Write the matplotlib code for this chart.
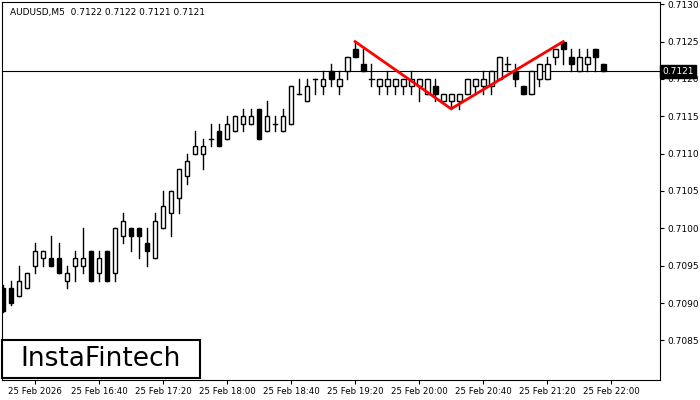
import numpy as np
import matplotlib
matplotlib.use('Agg')
import matplotlib.pyplot as plt
from matplotlib.patches import Rectangle

# OHLC of the AUDUSD M5 candles
opens = [.70920, .7092, .7091, .7092, .7095, .7096, .7096, .7096, .7093, .7095,
         .7095, .7097, .7094, .7097, .7094, .7099, .7100, .7100, .7098, .7096,
         .7100, .7102, .7104, .7107, .7110, .7110, .7112, .7113, .7112, .7113,
         .7114, .7114, .7116, .7113, .7114, .7113, .7114, .7118, .7117, .7120,
         .7119, .7121, .7119, .7121, .7124, .7122, .7120, .7119, .7119, .7119,
         .7119, .7119, .7119, .7118, .7119, .7117, .7117, .7117, .7118, .7119,
         .7119, .7119, .7120, .7122, .7121, .7119, .7118, .7120, .7120, .7123,
         .7125, .7123, .7121, .7122, .7124, .7122]
highs = [.70924, .7093, .7095, .7094, .7098, .7097, .7099, .7098, .7095, .7097,
         .7100, .7097, .7097, .7097, .7100, .7102, .7100, .7100, .7100, .7102,
         .7105, .7105, .7108, .7110, .7113, .7112, .7114, .7114, .7115, .7115,
         .7116, .7116, .7116, .7117, .7115, .7116, .7119, .7120, .7120, .7120,
         .7121, .7122, .7121, .7123, .7125, .7124, .7122, .7120, .7121, .7120,
         .7120, .7121, .7120, .7120, .7120, .7118, .7118, .7118, .7120, .7120,
         .7121, .7121, .7123, .7123, .7122, .7119, .7121, .7122, .7123, .7124,
         .7125, .7124, .7124, .7124, .7124, .7122]
lows = [.70888, .70898, .7091, .7092, .7094, .7095, .7095, .7094, .7092, .7093,
        .7094, .7093, .7093, .7093, .7093, .7098, .7097, .7096, .7095, .7096,
        .7100, .7099, .7102, .7106, .7110, .7108, .7111, .7111, .7112, .7113,
        .7113, .7114, .7112, .7113, .7113, .7113, .7114, .7118, .7117, .7118,
        .7118, .7119, .7118, .7120, .7123, .7121, .7119, .7118, .7118, .7118,
        .7118, .7118, .7117, .7118, .7117, .7117, .7116, .7116, .7118, .7118,
        .7118, .7118, .7120, .7121, .7119, .7118, .7118, .7119, .7120, .7122,
        .7122, .7121, .7121, .7121, .7121, .7121]
closes = [.70890, .7090, .7093, .7094, .7097, .7097, .7095, .7094, .7094, .7096,
          .7096, .7093, .7096, .7093, .7100, .7101, .7099, .7099, .7097, .7101,
          .7103, .7105, .7108, .7109, .7111, .7111, .7112, .7111, .7114, .7115,
          .7115, .7115, .7112, .7115, .7114, .7115, .7119, .7118, .7119, .7120,
          .7120, .7120, .7120, .7123, .7123, .7121, .7120, .7120, .7120, .7120,
          .7120, .7120, .7120, .7120, .7118, .7118, .7118, .7118, .7120, .7120,
          .7120, .7121, .7123, .7122, .7120, .7118, .7121, .7122, .7122, .7124,
          .7124, .7122, .7123, .7123, .7123, .7121]

# double top pattern: bar index and price of the three corners
pattern_idx = [44, 56, 70]
pattern_px = [.7125, .7116, .7125]

time_tick_idx = [4, 12, 20, 28, 36, 44, 52, 60, 68, 76]
time_tick_labels = ['25 Feb 2026', '25 Feb 16:40', '25 Feb 17:20', '25 Feb 18:00',
                    '25 Feb 18:40', '25 Feb 19:20', '25 Feb 20:00', '25 Feb 20:40',
                    '25 Feb 21:20', '25 Feb 22:00']
price_ticks = [.7085, .7090, .7095, .7100, .7105, .7110, .7115, .7120, .7125, .7130]
last_price = .7121

fig = plt.figure(figsize=(7, 4), dpi=100)
ax = fig.add_axes([2 / 700, 20 / 400, 658 / 700, 378 / 400])

w = 0.6
for i, (o, h, l, c) in enumerate(zip(opens, highs, lows, closes)):
    ax.plot([i, i], [l, h], color='black', lw=1, zorder=2)
    lo, hi = min(o, c), max(o, c)
    if hi - lo < 1e-6:
        ax.plot([i - w / 2, i + w / 2], [o, o], color='black', lw=1, zorder=3)
    else:
        ax.add_patch(Rectangle((i - w / 2, lo), w, hi - lo, facecolor='black' if c < o else 'white',
                               edgecolor='black', lw=1, zorder=3))

ax.plot(pattern_idx, pattern_px, color='#ff0000', lw=2, zorder=4)
ax.axhline(last_price, color='black', lw=0.8, zorder=1)

ax.set_xlim(-0.125, 82.1)
ax.set_ylim(.70797, .71303)
ax.set_xticks(time_tick_idx)
ax.set_xticklabels(time_tick_labels, fontsize=6.2)
ax.yaxis.tick_right()
ax.set_yticks(price_ticks)
ax.set_yticklabels(['%.4f' % p for p in price_ticks], fontsize=6.5)
ax.tick_params(length=3, width=0.8, pad=2)
for s in ax.spines.values():
    s.set_linewidth(0.8)

ax.text(0.012, 0.985, 'AUDUSD,M5  0.7122 0.7122 0.7121 0.7121', transform=ax.transAxes,
        fontsize=6.5, va='top', ha='left')
ax.text(1.003, last_price, '%.4f' % last_price, transform=ax.get_yaxis_transform(),
        fontsize=6.5, color='white', va='center', ha='left', zorder=10,
        bbox=dict(facecolor='black', edgecolor='black', pad=1.5), clip_on=False)

# logo box bottom-left
fig.patches.append(Rectangle((2 / 700, 22 / 400), 198 / 700, 38 / 400, transform=fig.transFigure,
                             facecolor='white', edgecolor='black', lw=1.5, zorder=20))
fig.text(101 / 700, 41 / 400, 'InstaFintech', fontsize=19, ha='center', va='center', zorder=21)

fig.savefig('out.png', dpi=100)
